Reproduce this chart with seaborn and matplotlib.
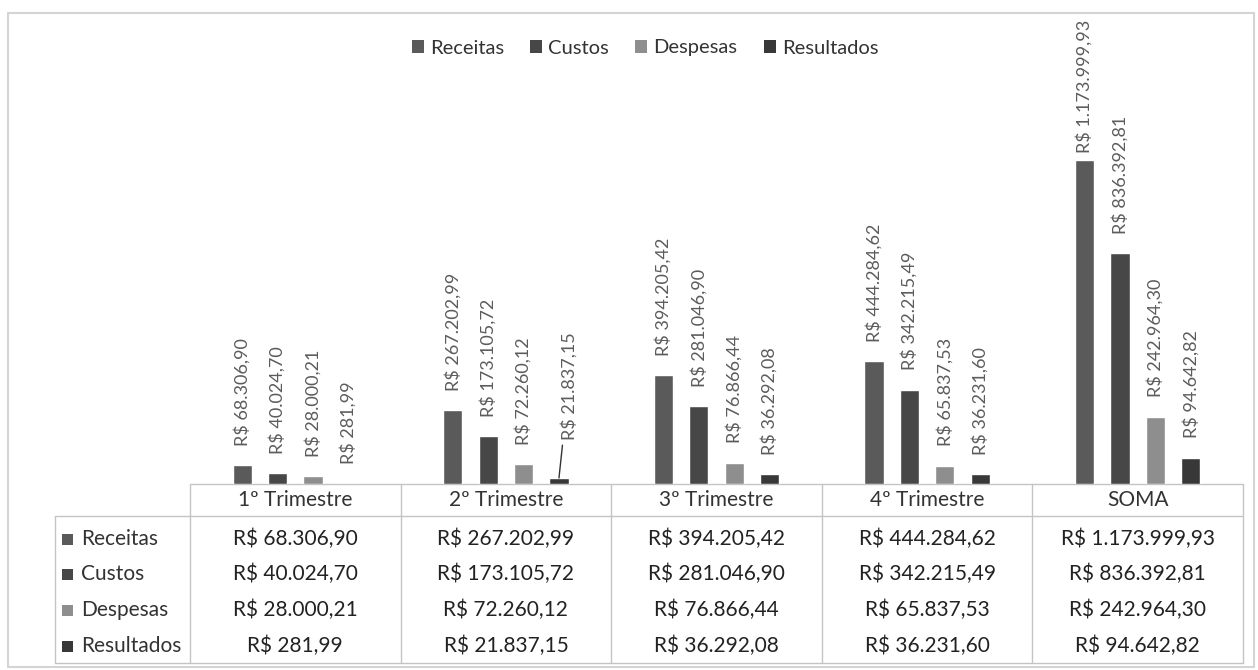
import numpy as np
import pandas as pd
import matplotlib
matplotlib.use("Agg")
import matplotlib.pyplot as plt
import seaborn as sns
from matplotlib.patches import Patch, Rectangle

# dados
trimestres = ["1º Trimestre", "2º Trimestre", "3º Trimestre", "4º Trimestre", "SOMA"]
series = ["Receitas", "Custos", "Despesas", "Resultados"]
receitas = [68306.90, 267202.99, 394205.42, 444284.62, 1173999.93]
custos = [40024.70, 173105.72, 281046.90, 342215.49, 836392.81]
despesas = [28000.21, 72260.12, 76866.44, 65837.53, 242964.30]
resultados = [281.99, 21837.15, 36292.08, 36231.60, 94642.82]
cores = ["#5a5a5a", "#474747", "#8e8e8e", "#383838"]

valores = [receitas, custos, despesas, resultados]
df = pd.DataFrame({
    "Trimestre": trimestres * len(series),
    "Serie": np.repeat(series, len(trimestres)),
    "Valor": np.concatenate(valores),
})


def brl(v):
    s = f"{v:,.2f}".replace(",", "X").replace(".", ",").replace("X", ".")
    return "R$ " + s


sns.set_theme(style="white")
plt.rcParams["font.family"] = ["Lato", "DejaVu Sans"]

W, H = 1258, 670
fig = plt.figure(figsize=(W / 100, H / 100), dpi=100)

# area das barras (em pixels da imagem)
x0, x1, ybase, ytop = 190, 1243, 484, 13
ax = fig.add_axes([x0 / W, (H - ybase) / H, (x1 - x0) / W, (ybase - ytop) / H])
sns.barplot(data=df, x="Trimestre", y="Valor", hue="Serie", palette=cores,
            saturation=1, width=0.672, gap=0.46, ax=ax, legend=False)
ax.set_xlim(-0.5, len(trimestres) - 0.5)
ax.set_ylim(0, 1.7065e6)
ax.axis("off")

# rotulos de dados
for i, cont in enumerate(ax.containers):
    for j, bar in enumerate(cont):
        v = valores[i][j]
        xc = bar.get_x() + bar.get_width() / 2
        kw = dict(rotation=90, ha="center", va="bottom", fontsize=13,
                  color="#5c5c5c", textcoords="offset points")
        if i == 3 and j == 1:
            ax.annotate(brl(v), xy=(xc, bar.get_height()), xytext=(7, 27),
                        arrowprops=dict(arrowstyle="-", color="#333333", lw=1,
                                        shrinkA=1, shrinkB=0), **kw)
        elif i == 0 and j == 4:
            ax.annotate(brl(v), xy=(xc, bar.get_height()), xytext=(0, 5), **kw)
        else:
            ax.annotate(brl(v), xy=(xc, bar.get_height()), xytext=(0, 14), **kw)

# legenda superior
handles = [Patch(facecolor=c, edgecolor="none") for c in cores]
fig.legend(handles, series, loc="center", bbox_to_anchor=(645 / W, 1 - 48 / H),
           ncol=4, frameon=False, fontsize=14.5, handlelength=0.6, handleheight=0.6,
           handletextpad=0.3, columnspacing=1.3, labelcolor="#333333")

# tabela de dados (coordenadas em pixels)
tb = fig.add_axes([0, 0, 1, 1], zorder=-1)
tb.set_xlim(0, W)
tb.set_ylim(H, 0)
tb.axis("off")
linha = dict(color="#c4c4c4", lw=1)
colw = (x1 - x0) / len(trimestres)
ylab, yhdr, ybot = 55, 516, 663
tb.plot([x0, x1], [ybase, ybase], **linha)
tb.plot([ylab, x1], [yhdr, yhdr], **linha)
tb.plot([ylab, x1], [ybot, ybot], **linha)
tb.plot([ylab, ylab], [yhdr, ybot], **linha)
for k in range(len(trimestres) + 1):
    xk = x0 + k * colw
    tb.plot([xk, xk], [ybase, ybot], **linha)

# moldura externa
tb.add_patch(Rectangle((8, 13), 1246, 654, fill=False, edgecolor="#d4d4d4", lw=1.5))

for k, t in enumerate(trimestres):
    tb.text(x0 + (k + 0.5) * colw, 500, t, ha="center", va="center",
            fontsize=15, color="#333333")

linhas_y = [539, 574, 610, 646]
for i, s in enumerate(series):
    y = linhas_y[i]
    tb.add_patch(Rectangle((62, y - 5), 11, 11, facecolor=cores[i], edgecolor="none"))
    tb.text(81, y, s, ha="left", va="center", fontsize=15, color="#333333")
    for k in range(len(trimestres)):
        tb.text(x0 + (k + 0.5) * colw, y, brl(valores[i][k]), ha="center",
                va="center", fontsize=15, color="#222222")

fig.savefig("out.png", dpi=100)
